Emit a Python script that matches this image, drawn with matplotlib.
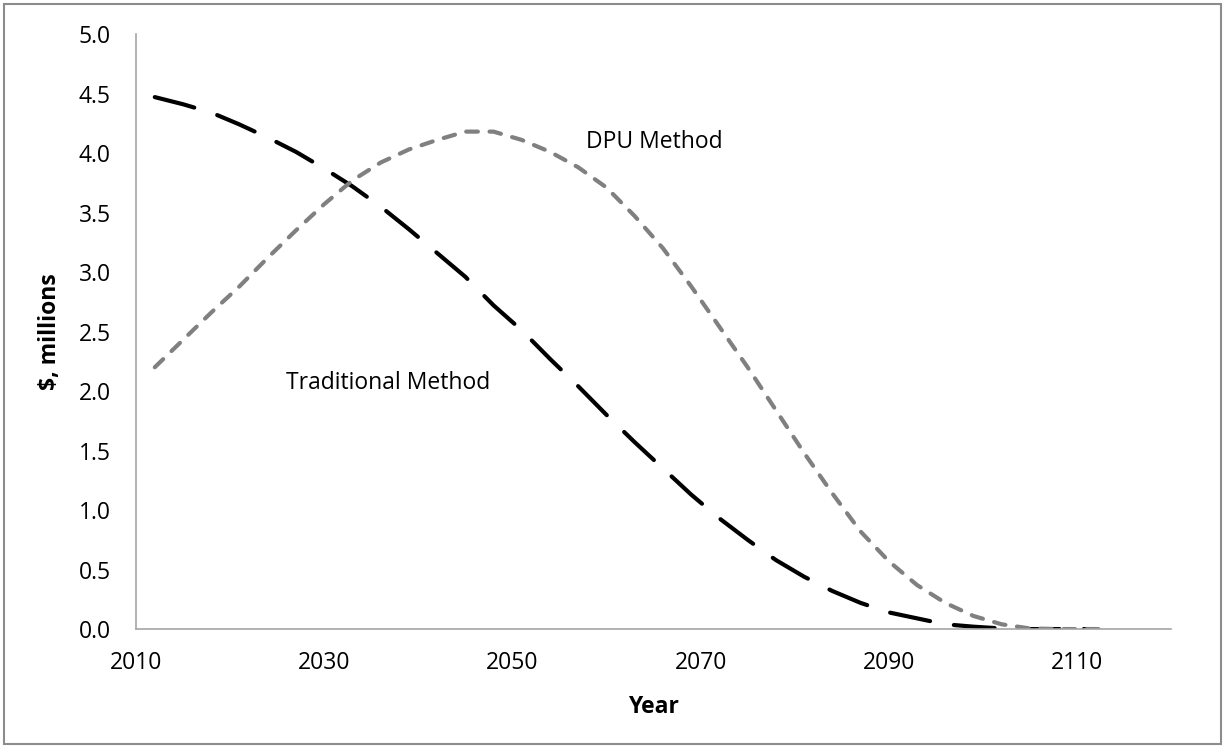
import matplotlib
matplotlib.use("Agg")
from matplotlib import pyplot as plt
from matplotlib.patches import Rectangle

plt.rcParams['font.family'] = ['Open Sans', 'DejaVu Sans']

# data
trad_years = [2012, 2015, 2018, 2021, 2024, 2027, 2030, 2033, 2036, 2039, 2042,
              2045, 2048, 2051, 2054, 2057, 2060, 2063, 2066, 2069, 2072, 2075,
              2078, 2081, 2084, 2087, 2090, 2093, 2096, 2099, 2102, 2105, 2108, 2112]
trad_vals = [4.47, 4.41, 4.34, 4.24, 4.13, 4.01, 3.87, 3.72, 3.55, 3.36, 3.16,
             2.96, 2.72, 2.51, 2.27, 2.04, 1.80, 1.57, 1.35, 1.13, 0.93, 0.75,
             0.58, 0.44, 0.32, 0.22, 0.14, 0.09, 0.04, 0.02, 0.005, 0.0, 0.0, 0.0]

dpu_years = [2012, 2015, 2018, 2021, 2024, 2027, 2030, 2033, 2036, 2039, 2042,
             2045, 2048, 2051, 2054, 2057, 2060, 2063, 2066, 2069, 2072, 2075,
             2078, 2081, 2084, 2087, 2090, 2093, 2096, 2099, 2102, 2105, 2108, 2113]
dpu_vals = [2.20, 2.43, 2.66, 2.88, 3.12, 3.35, 3.57, 3.77, 3.92, 4.03, 4.11,
            4.18, 4.18, 4.11, 4.01, 3.88, 3.71, 3.47, 3.20, 2.88, 2.54, 2.20,
            1.84, 1.48, 1.14, 0.82, 0.57, 0.37, 0.22, 0.11, 0.04, 0.005, 0.0, 0.0]

x_ticks = [2010, 2030, 2050, 2070, 2090, 2110]
y_ticks = [0.0, 0.5, 1.0, 1.5, 2.0, 2.5, 3.0, 3.5, 4.0, 4.5, 5.0]

fs = 16.5

fig = plt.figure(figsize=(12.25, 7.48), dpi=100)
ax = fig.add_axes([0.111, 0.159, 0.845, 0.7955])

ax.plot(trad_years, trad_vals, color='black', lw=3.0,
        dashes=(9.8, 5.8), dash_capstyle='round')
ax.plot(dpu_years, dpu_vals, color='#808080', lw=3.0,
        dashes=(2.8, 2.8), dash_capstyle='round')

ax.text(2057.8, 4.09, 'DPU Method', fontsize=fs, va='center', ha='left')
ax.text(2025.9, 2.07, 'Traditional Method', fontsize=fs, va='center', ha='left')

ax.set_xlim(2010, 2120)
ax.set_ylim(0, 5)
ax.set_xticks(x_ticks)
ax.set_yticks(y_ticks)
ax.set_yticklabels(['%.1f' % v for v in y_ticks])
ax.tick_params(length=0, labelsize=fs)
ax.tick_params(axis='y', pad=18)
ax.tick_params(axis='x', pad=16)

for s in ['top', 'right']:
    ax.spines[s].set_visible(False)
for s in ['left', 'bottom']:
    ax.spines[s].set_color('#a6a6a6')
    ax.spines[s].set_linewidth(1.2)

ax.set_xlabel('Year', fontsize=fs, fontweight='bold', labelpad=14)
ax.set_ylabel('$, millions', fontsize=fs, fontweight='bold', labelpad=12)

# chart border
fig.patches.append(Rectangle((0.003, 0.005), 0.994, 0.99, transform=fig.transFigure,
                             fill=False, edgecolor='#8c8c8c', lw=1.5))

fig.savefig('out.png', dpi=100)
